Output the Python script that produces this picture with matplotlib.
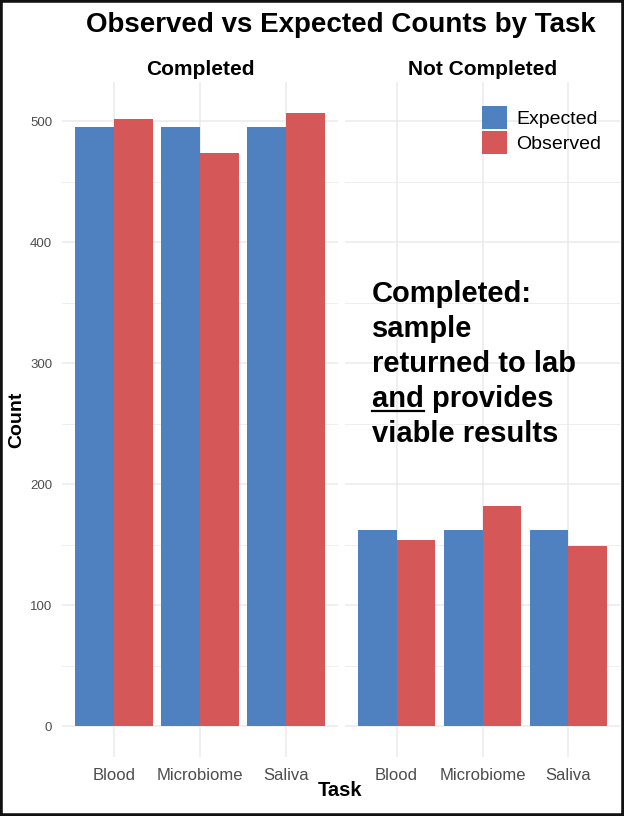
import numpy as np
import matplotlib.pyplot as plt
from matplotlib.patches import Rectangle
from matplotlib.lines import Line2D

plt.rcParams['font.family'] = ['Liberation Sans', 'DejaVu Sans']

tasks = ['Blood', 'Microbiome', 'Saliva']
panels = ['Completed', 'Not Completed']
expected = {'Completed': [495, 495, 495], 'Not Completed': [162, 162, 162]}
observed = {'Completed': [502, 474, 507], 'Not Completed': [154, 182, 149]}

blue = '#4F80BF'
red = '#D65757'
grid_col = '#EBEBEB'
tick_col = '#4D4D4D'

W, H = 624, 816
fig = plt.figure(figsize=(W / 100, H / 100), dpi=100)

def fx(px):
    return px / W

def fy(py):
    return 1 - py / H

top_px, bot_px = 82, 757
ax_l = fig.add_axes([fx(62), fy(bot_px), fx(338) - fx(62), (bot_px - top_px) / H])
ax_r = fig.add_axes([fx(345), fy(bot_px), fx(620) - fx(345), (bot_px - top_px) / H])

ymax = max(max(v) for v in observed.values())
ylo, yhi = -0.05 * ymax, 1.05 * ymax
x = np.arange(len(tasks))
bw = 0.45

for ax, p in zip([ax_l, ax_r], panels):
    ax.bar(x - bw / 2, expected[p], width=bw, color=blue, label='Expected', zorder=3)
    ax.bar(x + bw / 2, observed[p], width=bw, color=red, label='Observed', zorder=3)
    ax.set_xlim(-0.6, len(tasks) - 0.4)
    ax.set_ylim(ylo, yhi)
    ax.set_xticks(x)
    ax.set_xticklabels(tasks, fontsize=12, color=tick_col)
    ax.set_yticks(np.arange(0, 501, 100))
    ax.set_yticks(np.arange(50, 501, 100), minor=True)
    ax.grid(True, which='major', color=grid_col, linewidth=1.1, zorder=0)
    ax.grid(True, which='minor', axis='y', color=grid_col, linewidth=0.6, zorder=0)
    ax.tick_params(which='both', length=0)
    ax.tick_params(axis='x', pad=8)
    for s in ax.spines.values():
        s.set_visible(False)
    ax.set_title(p, fontsize=15, fontweight='bold', pad=5)

ax_l.tick_params(axis='y', labelsize=9.5, labelcolor=tick_col, pad=7)
ax_r.tick_params(axis='y', labelleft=False)

ax_r.legend(loc='upper right', bbox_to_anchor=(0.96, 0.976), frameon=False,
            fontsize=14, handlelength=1.24, handleheight=1.45,
            labelspacing=0.08, handletextpad=0.5, borderaxespad=0)

fig.text(fx(341), fy(25), 'Observed vs Expected Counts by Task', fontsize=20,
         fontweight='bold', ha='center', va='center')
fig.text(fx(17), fy(420), 'Count', fontsize=14, fontweight='bold',
         rotation=90, ha='center', va='center')
fig.text(fx(340), fy(791), 'Task', fontsize=14.5, fontweight='bold',
         ha='center', va='center')

note = ['Completed:', 'sample', 'returned to lab', 'and provides', 'viable results']
base = [302, 337, 372, 407, 442]
for line, b in zip(note, base):
    fig.text(fx(372), fy(b), line, fontsize=21, fontweight='bold',
             ha='left', va='baseline')

# underline "and"
fig.canvas.draw()
r = fig.canvas.get_renderer()
probe = fig.text(fx(372), fy(407), 'and', fontsize=21, fontweight='bold',
                 ha='left', va='baseline', alpha=0)
bb = probe.get_window_extent(r)
probe.remove()
fig.add_artist(Line2D([bb.x0 / W, bb.x1 / W], [fy(411), fy(411)],
                      transform=fig.transFigure, color='black', linewidth=1.6))

fig.patches.append(Rectangle((0, 0), 1, 1, transform=fig.transFigure, fill=False,
                             edgecolor='#111111', linewidth=4, zorder=10))

fig.savefig('out.png', dpi=100)
